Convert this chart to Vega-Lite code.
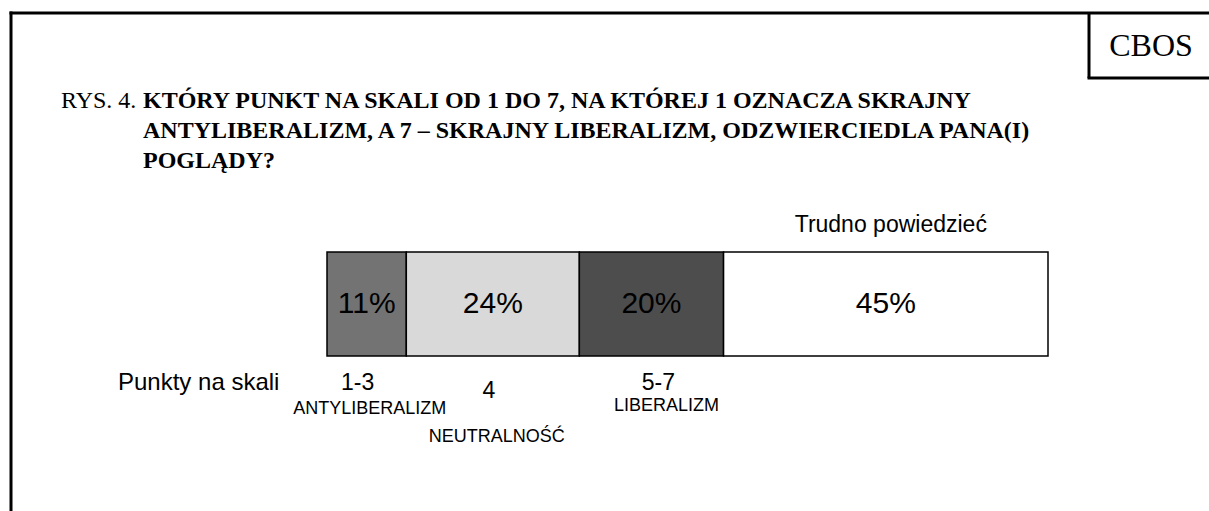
{
  "$schema": "https://vega.github.io/schema/vega-lite/v6.json",
  "width": 1209,
  "height": 511,
  "autosize": {"type": "none"},
  "padding": 0,
  "background": "white",
  "config": {"view": {"stroke": null}},
  "layer": [
    {
      "data": {"values": [{}]},
      "mark": {"type": "rule", "color": "black", "strokeWidth": 3},
      "encoding": {
        "x": {"datum": -0.44036, "type": "quantitative", "scale": {"domain": [-0.45354, 1.2233], "nice": false, "zero": false}, "axis": null},
        "x2": {"datum": 1.25},
        "y": {"datum": 3.29808, "type": "quantitative", "scale": {"domain": [-1.49038, 3.42308], "nice": false, "zero": false}, "axis": null}
      }
    },
    {
      "data": {"values": [{}]},
      "mark": {"type": "rule", "color": "black", "strokeWidth": 3},
      "encoding": {
        "x": {"datum": -0.43828, "type": "quantitative", "scale": {"domain": [-0.45354, 1.2233], "nice": false, "zero": false}, "axis": null},
        "y": {"datum": 3.3125, "type": "quantitative", "scale": {"domain": [-1.49038, 3.42308], "nice": false, "zero": false}, "axis": null},
        "y2": {"datum": -1.6}
      }
    },
    {
      "data": {"values": [{}]},
      "mark": {"type": "rule", "color": "black", "strokeWidth": 3},
      "encoding": {
        "x": {"datum": 1.05687, "type": "quantitative", "scale": {"domain": [-0.45354, 1.2233], "nice": false, "zero": false}, "axis": null},
        "y": {"datum": 3.29808, "type": "quantitative", "scale": {"domain": [-1.49038, 3.42308], "nice": false, "zero": false}, "axis": null},
        "y2": {"datum": 2.67308}
      }
    },
    {
      "data": {"values": [{}]},
      "mark": {"type": "rule", "color": "black", "strokeWidth": 3},
      "encoding": {
        "x": {"datum": 1.05479, "type": "quantitative", "scale": {"domain": [-0.45354, 1.2233], "nice": false, "zero": false}, "axis": null},
        "x2": {"datum": 1.25},
        "y": {"datum": 2.67308, "type": "quantitative", "scale": {"domain": [-1.49038, 3.42308], "nice": false, "zero": false}, "axis": null}
      }
    },
    {
      "data": {"values": [{}]},
      "mark": {"type": "text", "text": "CBOS", "font": "Liberation Serif", "fontSize": 32, "align": "center", "baseline": "alphabetic", "color": "black"},
      "encoding": {
        "x": {"datum": 1.14286, "type": "quantitative", "scale": {"domain": [-0.45354, 1.2233], "nice": false, "zero": false}, "axis": null},
        "y": {"datum": 2.88462, "type": "quantitative", "scale": {"domain": [-1.49038, 3.42308], "nice": false, "zero": false}, "axis": null}
      }
    },
    {
      "data": {"values": [{}]},
      "mark": {"type": "text", "text": "RYS. 4.", "font": "Liberation Serif", "fontSize": 24, "align": "left", "baseline": "alphabetic", "color": "black"},
      "encoding": {
        "x": {"datum": -0.36893, "type": "quantitative", "scale": {"domain": [-0.45354, 1.2233], "nice": false, "zero": false}, "axis": null},
        "y": {"datum": 2.38462, "type": "quantitative", "scale": {"domain": [-1.49038, 3.42308], "nice": false, "zero": false}, "axis": null}
      }
    },
    {
      "data": {"values": [{}]},
      "mark": {"type": "text", "text": ["KTÓRY PUNKT NA SKALI OD 1 DO 7, NA KTÓREJ 1 OZNACZA SKRAJNY", "ANTYLIBERALIZM, A 7 – SKRAJNY LIBERALIZM, ODZWIERCIEDLA PANA(I)", "POGLĄDY?"], "font": "Liberation Serif", "fontSize": 24, "fontWeight": "bold", "lineHeight": 30, "align": "left", "baseline": "alphabetic", "color": "black"},
      "encoding": {
        "x": {"datum": -0.2552, "type": "quantitative", "scale": {"domain": [-0.45354, 1.2233], "nice": false, "zero": false}, "axis": null},
        "y": {"datum": 2.38462, "type": "quantitative", "scale": {"domain": [-1.49038, 3.42308], "nice": false, "zero": false}, "axis": null}
      }
    },
    {
      "data": {"values": [{}]},
      "mark": {"type": "text", "text": "Punkty na skali", "font": "Liberation Sans", "fontSize": 24, "align": "left", "baseline": "middle", "color": "black"},
      "encoding": {
        "x": {"datum": -0.28988, "type": "quantitative", "scale": {"domain": [-0.45354, 1.2233], "nice": false, "zero": false}, "axis": null},
        "y": {"datum": -0.25962, "type": "quantitative", "scale": {"domain": [-1.49038, 3.42308], "nice": false, "zero": false}, "axis": null}
      }
    },
    {
      "data": {"values": [
        {"group": "1-3", "desc": "ANTYLIBERALIZM", "share": 0.11},
        {"group": "4", "desc": "NEUTRALNOŚĆ", "share": 0.24},
        {"group": "5-7", "desc": "LIBERALIZM", "share": 0.20},
        {"group": "Trudno powiedzieć", "desc": "", "share": 0.45}
      ]},
      "transform": [
        {"stack": "share", "groupby": [], "sort": [{"field": "group", "order": "ascending"}], "as": ["x0", "x1"]}
      ],
      "layer": [
        {
          "mark": {"type": "rect", "stroke": "black", "strokeWidth": 1.5},
          "encoding": {
            "x": {"field": "x0", "type": "quantitative", "scale": {"domain": [-0.45354, 1.2233], "nice": false, "zero": false}, "axis": null},
            "x2": {"field": "x1"},
            "y": {"datum": 0, "type": "quantitative", "scale": {"domain": [-1.49038, 3.42308], "nice": false, "zero": false}, "axis": null},
            "y2": {"datum": 1},
            "color": {"field": "group", "type": "nominal", "scale": {"domain": ["1-3", "4", "5-7", "Trudno powiedzieć"], "range": ["#737373", "#d9d9d9", "#4d4d4d", "#ffffff"]}, "legend": null}
          }
        },
        {
          "transform": [
            {"fold": ["x0", "x1"], "as": ["edge", "pos"]},
            {"aggregate": [{"op": "mean", "field": "pos", "as": "mid"}], "groupby": ["group", "desc", "share"]}
          ],
          "layer": [
            {
              "mark": {"type": "text", "font": "Liberation Sans", "fontSize": 30, "align": "center", "baseline": "middle", "color": "black"},
              "encoding": {
                "x": {"field": "mid", "type": "quantitative", "scale": {"domain": [-0.45354, 1.2233], "nice": false, "zero": false}, "axis": null},
                "y": {"datum": 0.5, "type": "quantitative", "scale": {"domain": [-1.49038, 3.42308], "nice": false, "zero": false}, "axis": null},
                "text": {"field": "share", "format": ".0%"}
              }
            },
            {
              "transform": [{"filter": "datum.group == '1-3'"}],
              "mark": {"type": "text", "font": "Liberation Sans", "fontSize": 23, "align": "center", "baseline": "middle", "color": "black", "dx": -9, "dy": 27},
              "encoding": {
                "x": {"field": "mid", "type": "quantitative", "scale": {"domain": [-0.45354, 1.2233], "nice": false, "zero": false}, "axis": null},
                "y": {"datum": 0, "type": "quantitative", "scale": {"domain": [-1.49038, 3.42308], "nice": false, "zero": false}, "axis": null},
                "text": {"field": "group"}
              }
            },
            {
              "transform": [{"filter": "datum.group == '4'"}],
              "mark": {"type": "text", "font": "Liberation Sans", "fontSize": 23, "align": "center", "baseline": "middle", "color": "black", "dx": -4, "dy": 35},
              "encoding": {
                "x": {"field": "mid", "type": "quantitative", "scale": {"domain": [-0.45354, 1.2233], "nice": false, "zero": false}, "axis": null},
                "y": {"datum": 0, "type": "quantitative", "scale": {"domain": [-1.49038, 3.42308], "nice": false, "zero": false}, "axis": null},
                "text": {"field": "group"}
              }
            },
            {
              "transform": [{"filter": "datum.group == '5-7'"}],
              "mark": {"type": "text", "font": "Liberation Sans", "fontSize": 23, "align": "center", "baseline": "middle", "color": "black", "dx": 7, "dy": 27},
              "encoding": {
                "x": {"field": "mid", "type": "quantitative", "scale": {"domain": [-0.45354, 1.2233], "nice": false, "zero": false}, "axis": null},
                "y": {"datum": 0, "type": "quantitative", "scale": {"domain": [-1.49038, 3.42308], "nice": false, "zero": false}, "axis": null},
                "text": {"field": "group"}
              }
            },
            {
              "transform": [{"filter": "datum.group == 'Trudno powiedzieć'"}],
              "mark": {"type": "text", "font": "Liberation Sans", "fontSize": 23, "align": "center", "baseline": "middle", "color": "black", "dx": 5, "dy": -27},
              "encoding": {
                "x": {"field": "mid", "type": "quantitative", "scale": {"domain": [-0.45354, 1.2233], "nice": false, "zero": false}, "axis": null},
                "y": {"datum": 1, "type": "quantitative", "scale": {"domain": [-1.49038, 3.42308], "nice": false, "zero": false}, "axis": null},
                "text": {"field": "group"}
              }
            },
            {
              "transform": [{"filter": "datum.group == '1-3'"}],
              "mark": {"type": "text", "font": "Liberation Sans", "fontSize": 18, "align": "center", "baseline": "middle", "color": "black", "dx": 3, "dy": 53},
              "encoding": {
                "x": {"field": "mid", "type": "quantitative", "scale": {"domain": [-0.45354, 1.2233], "nice": false, "zero": false}, "axis": null},
                "y": {"datum": 0, "type": "quantitative", "scale": {"domain": [-1.49038, 3.42308], "nice": false, "zero": false}, "axis": null},
                "text": {"field": "desc"}
              }
            },
            {
              "transform": [{"filter": "datum.group == '4'"}],
              "mark": {"type": "text", "font": "Liberation Sans", "fontSize": 18, "align": "center", "baseline": "middle", "color": "black", "dx": 4, "dy": 81},
              "encoding": {
                "x": {"field": "mid", "type": "quantitative", "scale": {"domain": [-0.45354, 1.2233], "nice": false, "zero": false}, "axis": null},
                "y": {"datum": 0, "type": "quantitative", "scale": {"domain": [-1.49038, 3.42308], "nice": false, "zero": false}, "axis": null},
                "text": {"field": "desc"}
              }
            },
            {
              "transform": [{"filter": "datum.group == '5-7'"}],
              "mark": {"type": "text", "font": "Liberation Sans", "fontSize": 18, "align": "center", "baseline": "middle", "color": "black", "dx": 15, "dy": 50},
              "encoding": {
                "x": {"field": "mid", "type": "quantitative", "scale": {"domain": [-0.45354, 1.2233], "nice": false, "zero": false}, "axis": null},
                "y": {"datum": 0, "type": "quantitative", "scale": {"domain": [-1.49038, 3.42308], "nice": false, "zero": false}, "axis": null},
                "text": {"field": "desc"}
              }
            }
          ]
        }
      ]
    }
  ]
}
